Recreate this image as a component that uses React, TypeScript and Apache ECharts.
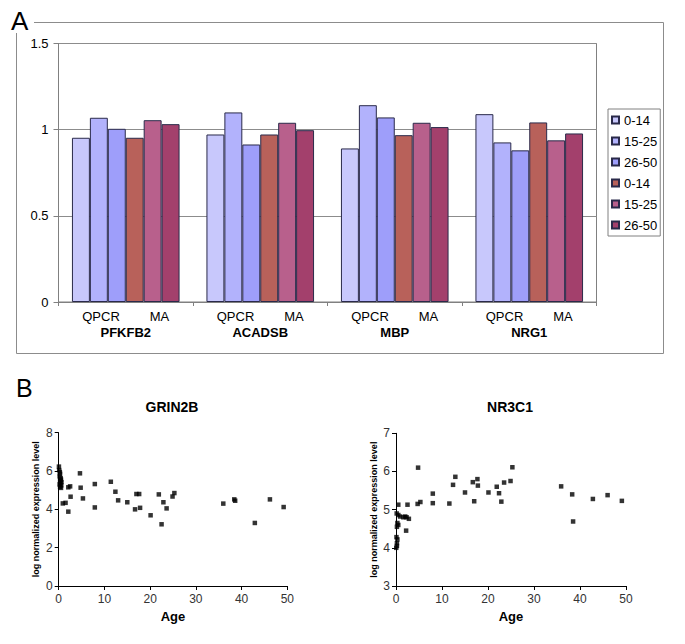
import React, { useEffect, useRef } from "react";
import * as echarts from "echarts";

const genes = ["PFKFB2", "ACADSB", "MBP", "NRG1"];
const ageGroups = ["0-14", "15-25", "26-50"];
const qpcr0to14 = [0.953, 0.972, 0.891, 1.09];
const qpcr15to25 = [1.069, 1.1, 1.142, 0.926];
const qpcr26to50 = [1.005, 0.914, 1.071, 0.88];
const ma0to14 = [0.953, 0.972, 0.968, 1.042];
const ma15to25 = [1.055, 1.04, 1.04, 0.938];
const ma26to50 = [1.032, 0.997, 1.015, 0.978];

const yTicksBar = [0, 0.5, 1, 1.5];
const ageTicks = [0, 10, 20, 30, 40, 50];

const grin2bPoints: [number, number][] = [
  [0.05, 6.23], [0.1, 6.05], [0.25, 5.95], [0.3, 5.85], [0.2, 5.72], [0.45, 5.62],
  [0.5, 5.55], [0.3, 5.48], [0.6, 5.42], [0.4, 5.36], [0.2, 5.3], [0.55, 5.25],
  [0.3, 5.17], [0.5, 5.12],
  [0.9, 4.31], [1.5, 4.34], [2.1, 3.88], [2.1, 5.15], [2.5, 5.2], [2.6, 4.66],
  [4.65, 5.88], [4.8, 5.13], [5.3, 4.57], [7.9, 5.32], [7.9, 4.1], [11.4, 5.44],
  [12.4, 4.92], [13.0, 4.47], [15.0, 4.37], [16.7, 4.0], [17.0, 4.8], [17.6, 4.8],
  [17.8, 4.08], [20.1, 3.69], [21.9, 4.78], [22.5, 3.22], [22.9, 4.37], [23.6, 4.05],
  [24.9, 4.67], [25.3, 4.85], [36.0, 4.3], [38.4, 4.52], [38.6, 4.45], [42.9, 3.29],
  [46.2, 4.52], [49.2, 4.12],
];

const nr3c1Points: [number, number][] = [
  [0.15, 4.9], [0.5, 4.86], [0.9, 4.82], [1.6, 4.8], [2.0, 4.82], [2.3, 4.8],
  [2.8, 4.76], [0.3, 4.65], [0.5, 4.6], [0.2, 4.55], [0.1, 4.28], [0.3, 4.22],
  [0.2, 4.12], [0.05, 4.0], [0.2, 4.05], [0.5, 5.13], [2.5, 5.13], [2.2, 4.45],
  [4.8, 6.1], [4.7, 5.15], [5.3, 5.2], [8.0, 5.42], [8.0, 5.17], [11.6, 5.16],
  [12.4, 5.65], [12.9, 5.86], [15.0, 5.45], [16.7, 5.72], [17.0, 5.22], [17.7, 5.8],
  [17.8, 5.63], [20.1, 5.45], [21.9, 5.6], [22.4, 5.43], [22.9, 5.21], [23.5, 5.71],
  [24.9, 5.75], [25.3, 6.11], [35.9, 5.61], [38.3, 5.4], [38.5, 4.69], [42.8, 5.28],
  [46.0, 5.38], [49.1, 5.23],
];

const FONT = "'Liberation Sans', Arial, sans-serif";

const barSeriesDefs = [
  { method: "QPCR", group: ageGroups[0], data: qpcr0to14, color: "#C8C8FC" },
  { method: "QPCR", group: ageGroups[1], data: qpcr15to25, color: "#B2B2FC" },
  { method: "QPCR", group: ageGroups[2], data: qpcr26to50, color: "#9E9EFA" },
  { method: "MA", group: ageGroups[0], data: ma0to14, color: "#B8615A" },
  { method: "MA", group: ageGroups[1], data: ma15to25, color: "#B8608C" },
  { method: "MA", group: ageGroups[2], data: ma26to50, color: "#A3406C" },
];

export default function App() {
  const ref = useRef<HTMLDivElement>(null);
  useEffect(() => {
    if (!ref.current) return;
    const chart = echarts.init(ref.current, undefined, { renderer: "svg" });

    const scatterX = (gridIndex: number) => ({
      type: "value",
      gridIndex,
      min: ageTicks[0],
      max: ageTicks[ageTicks.length - 1],
      interval: 10,
      name: "Age",
      nameLocation: "middle",
      nameGap: 24,
      nameTextStyle: { fontFamily: FONT, fontSize: 13, fontWeight: "bold", color: "#000" },
      axisLine: { show: true, lineStyle: { color: "#000", width: 1 } },
      axisTick: { show: true, length: 4, lineStyle: { color: "#000" } },
      axisLabel: { fontFamily: FONT, fontSize: 12, color: "#333", margin: 7 },
      splitLine: { show: false },
    });
    const scatterY = (gridIndex: number, min: number, max: number, interval: number) => ({
      type: "value",
      gridIndex,
      min,
      max,
      interval,
      name: "log normalized expression level",
      nameLocation: "middle",
      nameGap: 18,
      nameTextStyle: { fontFamily: FONT, fontSize: 9, fontWeight: "bold", color: "#000" },
      axisLine: { show: true, lineStyle: { color: "#000", width: 1 } },
      axisTick: { show: true, length: 4, lineStyle: { color: "#000" } },
      axisLabel: { fontFamily: FONT, fontSize: 12, color: "#333", margin: 6 },
      splitLine: { show: false },
    });

    chart.setOption({
      animation: false,
      backgroundColor: "#fff",
      textStyle: { fontFamily: FONT },
      title: [
        { text: "A", left: 11, top: 8, padding: 0, textStyle: { fontFamily: FONT, fontSize: 26, fontWeight: "normal", color: "#000" } },
        { text: "B", left: 16, top: 375, padding: 0, textStyle: { fontFamily: FONT, fontSize: 25, fontWeight: "normal", color: "#000" } },
        { text: "GRIN2B", left: 172, top: 400, textAlign: "center", padding: 0, textStyle: { fontFamily: FONT, fontSize: 14, fontWeight: "bold", color: "#000" } },
        { text: "NR3C1", left: 510, top: 400, textAlign: "center", padding: 0, textStyle: { fontFamily: FONT, fontSize: 14, fontWeight: "bold", color: "#000" } },
      ],
      graphic: [
        {
          type: "polyline",
          shape: { points: [[16.5, 33], [16.5, 353.5], [663.5, 353.5], [663.5, 22.5], [34, 22.5]] },
          style: { fill: "none", stroke: "#8c8c8c", lineWidth: 1 },
          silent: true,
        },
      ],
      legend: {
        orient: "vertical",
        left: 608,
        top: 109,
        padding: [4, 3, 4, 3],
        itemWidth: 7,
        itemHeight: 7,
        itemGap: 7,
        icon: "rect",
        backgroundColor: "#fff",
        borderColor: "#808080",
        borderWidth: 1,
        borderRadius: 0,
        textStyle: { fontFamily: FONT, fontSize: 13, color: "#000", lineHeight: 14 },
        formatter: (n: string) => n.replace(/^(QPCR|MA) /, ""),
        data: barSeriesDefs.map((d) => `${d.method} ${d.group}`),
      },
      grid: [
        { left: 58.5, top: 43.5, width: 538, height: 258.5, show: true, borderColor: "#808080", borderWidth: 1, backgroundColor: "transparent" },
        { left: 58.7, top: 432.7, width: 228.6, height: 153.3 },
        { left: 396, top: 433.3, width: 230, height: 152.7 },
      ],
      xAxis: [
        {
          type: "category",
          gridIndex: 0,
          data: genes,
          axisLine: { lineStyle: { color: "#808080" } },
          axisTick: { show: true, length: 4, lineStyle: { color: "#808080" } },
          axisLabel: {
            interval: 0,
            margin: 6,
            formatter: (v: string) => `{s|QPCR}{m|MA}\n{g|${v}}`,
            rich: {
              s: { fontFamily: FONT, fontSize: 13, color: "#000", lineHeight: 16, align: "center" },
              m: { fontFamily: FONT, fontSize: 13, color: "#000", lineHeight: 16, align: "center", padding: [0, 0, 0, 30] },
              g: { fontFamily: FONT, fontSize: 13, fontWeight: "bold", color: "#000", lineHeight: 16, align: "center" },
            },
          },
        },
        scatterX(1),
        scatterX(2),
      ],
      yAxis: [
        {
          type: "value",
          gridIndex: 0,
          min: yTicksBar[0],
          max: yTicksBar[yTicksBar.length - 1],
          interval: 0.5,
          axisLine: { show: true, lineStyle: { color: "#808080" } },
          axisTick: { show: true, length: 5, lineStyle: { color: "#808080" } },
          axisLabel: { fontFamily: FONT, fontSize: 13, color: "#000", margin: 10 },
          splitLine: { show: true, lineStyle: { color: "#8c8c8c", width: 1 } },
        },
        scatterY(1, 0, 8, 2),
        scatterY(2, 3, 7, 1),
      ],
      series: [
        ...barSeriesDefs.map((d) => ({
          type: "bar",
          name: `${d.method} ${d.group}`,
          xAxisIndex: 0,
          yAxisIndex: 0,
          data: d.data,
          barGap: "0%",
          barCategoryGap: "20%",
          itemStyle: { color: d.color, borderColor: "#2a2a4a", borderWidth: 1 },
        })),
        {
          type: "scatter",
          name: "GRIN2B",
          xAxisIndex: 1,
          yAxisIndex: 1,
          data: grin2bPoints,
          symbol: "rect",
          symbolSize: 4.5,
          itemStyle: { color: "#000" },
        },
        {
          type: "scatter",
          name: "NR3C1",
          xAxisIndex: 2,
          yAxisIndex: 2,
          data: nr3c1Points,
          symbol: "rect",
          symbolSize: 4.5,
          itemStyle: { color: "#000" },
        },
      ],
    });
    return () => chart.dispose();
  }, []);
  return (
    <div
      ref={ref}
      style={{ position: "absolute", left: 0, top: 0, width: 685, height: 644 }}
    />
  );
}
